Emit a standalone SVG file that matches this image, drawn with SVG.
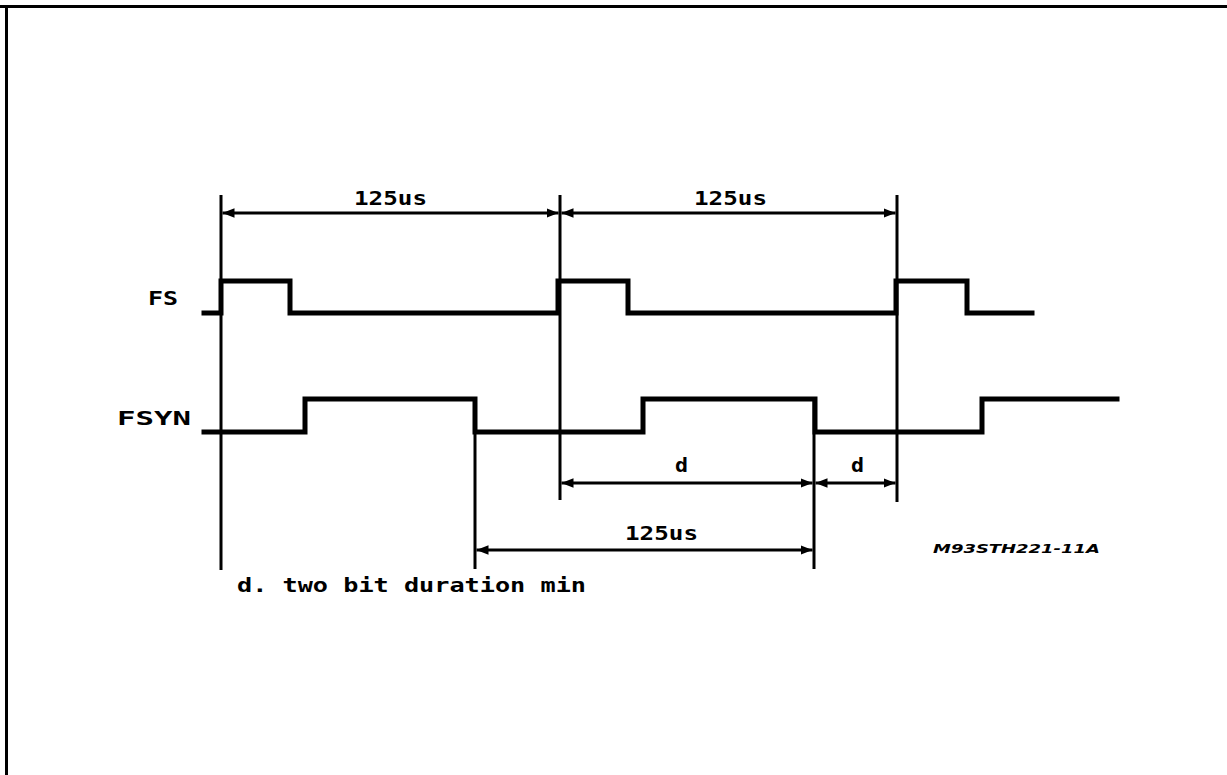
<svg xmlns="http://www.w3.org/2000/svg" width="1227" height="775" viewBox="0 0 1227 775">
<defs>
<style>
.sig{fill:none;stroke:#000;stroke-width:5;stroke-linejoin:miter;stroke-linecap:square}
.ref{fill:none;stroke:#000;stroke-width:3}
.dim{fill:none;stroke:#000;stroke-width:3;marker-start:url(#ah);marker-end:url(#ah)}
.dim1{fill:none;stroke:#000;stroke-width:3;marker-end:url(#ah)}
.t{font-family:"DejaVu Sans Mono","Liberation Mono",monospace;font-weight:bold;font-size:20px;fill:#000}
.code{font-family:"DejaVu Sans","Liberation Sans",sans-serif;font-weight:bold;font-style:italic;font-size:13px;fill:#000}
</style>
<marker id="ah" viewBox="0 0 10 8" refX="10" refY="4" markerWidth="4" markerHeight="3.2" orient="auto-start-reverse" markerUnits="strokeWidth">
<path d="M0,0 L10,4 L0,8 Z" fill="#000"/>
</marker>
</defs>
<rect width="1227" height="775" fill="#fff"/>
<g id="border">
<line x1="0" y1="6.5" x2="1227" y2="6.5" stroke="#000" stroke-width="3"/>
<line x1="6.5" y1="5" x2="6.5" y2="775" stroke="#000" stroke-width="3"/>
</g>
<g id="references">
<line class="ref" x1="221" y1="195" x2="221" y2="570"/>
<line class="ref" x1="560" y1="195" x2="560" y2="500"/>
<line class="ref" x1="897" y1="195" x2="897" y2="502"/>
<line class="ref" x1="475" y1="400" x2="475" y2="569"/>
<line class="ref" x1="814" y1="400" x2="814" y2="569"/>
</g>
<g id="fs">
<text class="t" x="148" y="305" font-size="22" textLength="30" lengthAdjust="spacingAndGlyphs">FS</text>
<path class="sig" d="M204,313 H221 V281 H290 V313 H558 V281 H628 V313 H896 V281 H967 V313 H1032"/>
</g>
<g id="fsyn">
<text class="t" x="117" y="425" font-size="22" textLength="74" lengthAdjust="spacingAndGlyphs">FSYN</text>
<path class="sig" d="M204,432 H305 V399 H475 V432 H643 V399 H815 V432 H982 V399 H1117"/>
</g>
<g id="connectors">
<line class="dim" x1="222.5" y1="213" x2="558.5" y2="213"/>
<line class="dim" x1="561.5" y1="213" x2="895.5" y2="213"/>
<line class="dim" x1="561.5" y1="483" x2="812.5" y2="483"/>
<line class="dim" x1="815.5" y1="483" x2="895.5" y2="483"/>
<line class="dim" x1="476.5" y1="550" x2="812.5" y2="550"/>
</g>
<g id="labels">
<text class="t" x="354" y="205" textLength="73" lengthAdjust="spacingAndGlyphs">125us</text>
<text class="t" x="694" y="205" textLength="73" lengthAdjust="spacingAndGlyphs">125us</text>
<text class="t" x="675" y="472" textLength="13" lengthAdjust="spacingAndGlyphs">d</text>
<text class="t" x="851" y="472" textLength="13" lengthAdjust="spacingAndGlyphs">d</text>
<text class="t" x="625" y="540" textLength="73" lengthAdjust="spacingAndGlyphs">125us</text>
<text class="t" x="237" y="592" textLength="349" lengthAdjust="spacingAndGlyphs">d. two bit duration min</text>
<text class="code" x="933" y="553" textLength="167" lengthAdjust="spacingAndGlyphs">M93STH221-11A</text>
</g>
</svg>
